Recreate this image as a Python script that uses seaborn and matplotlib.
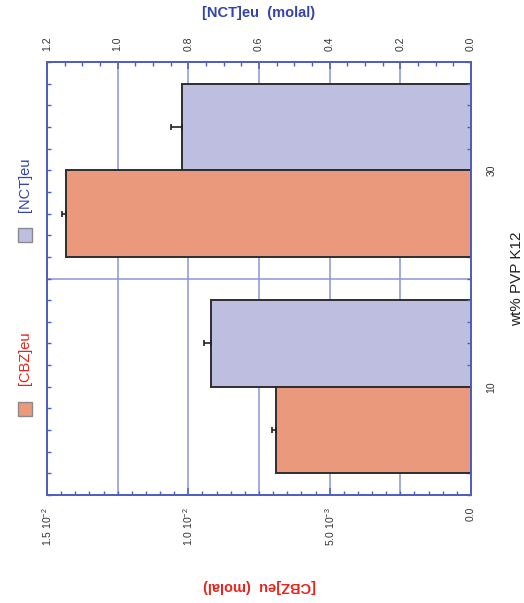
import numpy as np
import pandas as pd
import matplotlib
matplotlib.use("Agg")
import matplotlib.pyplot as plt
from matplotlib.patches import Rectangle
from matplotlib.ticker import MultipleLocator, FixedLocator
import seaborn as sns

# Eutectic concentrations versus polymer loading
wt_pct = ["10", "30"]
cbz_molal = [0.0069, 0.01432]
cbz_err = [0.00014, 0.00014]
nct_molal = [0.737, 0.819]
nct_err = [0.020, 0.031]

cbz_ticks = [0.0, 0.005, 0.010, 0.015]
cbz_ticklabels = ["0.0", "5.0 10$^{-3}$", "1.0 10$^{-2}$", "1.5 10$^{-2}$"]
nct_ticks = [0.0, 0.2, 0.4, 0.6, 0.8, 1.0, 1.2]
nct_ticklabels = ["0.0", "0.2", "0.4", "0.6", "0.8", "1.0", "1.2"]

sns.set_style("white")
plt.rcParams["font.family"] = ["Liberation Sans", "DejaVu Sans"]
plt.rcParams["mathtext.fontset"] = "custom"
plt.rcParams["mathtext.rm"] = "Liberation Sans"

AXIS_BLUE = "#4F5FBF"
GRID_BLUE = "#8C94D8"
TITLE_BLUE = "#3444A8"
TITLE_RED = "#E8231C"
CBZ_COLOR = "#EA997C"
NCT_COLOR = "#BEBFE0"
EDGE = "#2E2E2E"
TXT = "#333333"

fig = plt.figure(figsize=(5.24, 6.03), dpi=100)
ax = fig.add_axes([47 / 524, 1 - 495 / 603, 424 / 524, 433 / 603])
ax2 = ax.twiny()
# the [CBZ] axes carries the category ticks, so keep it drawn last
ax2.set_zorder(0)
ax.set_zorder(1)
ax.patch.set_visible(False)
ax2.patch.set_visible(False)

# group centres along the category axis, bars side by side within a group
centres = np.arange(len(wt_pct)) * 10 + 5
cbz_pos = centres - 2
nct_pos = centres + 2

df_cbz = pd.DataFrame({"pos": cbz_pos, "molal": cbz_molal})
df_nct = pd.DataFrame({"pos": nct_pos, "molal": nct_molal})

# background grid on the lower axes
for v in nct_ticks[1:-1]:
    ax2.axvline(v, color=GRID_BLUE, lw=1.1, zorder=0)
ax2.axhline(10, color=GRID_BLUE, lw=1.1, zorder=0)

sns.barplot(data=df_nct, x="molal", y="pos", orient="h", native_scale=True,
            width=0.4, color=NCT_COLOR, saturation=1, errorbar=None,
            edgecolor=EDGE, linewidth=1.4, ax=ax2, zorder=2)
ax2.errorbar(nct_molal, nct_pos, xerr=[np.zeros(len(nct_err)), nct_err],
             fmt="none", ecolor="#222222", elinewidth=1.2, capsize=2.2,
             capthick=1.2, zorder=3)

sns.barplot(data=df_cbz, x="molal", y="pos", orient="h", native_scale=True,
            width=0.4, color=CBZ_COLOR, saturation=1, errorbar=None,
            edgecolor=EDGE, linewidth=1.4, ax=ax, zorder=2)
ax.errorbar(cbz_molal, cbz_pos, xerr=[np.zeros(len(cbz_err)), cbz_err],
            fmt="none", ecolor="#222222", elinewidth=1.2, capsize=2.2,
            capthick=1.2, zorder=3)

# value axes run from right (zero) to left
ax.set_xlim(0.015, 0.0)
ax2.set_xlim(1.2, 0.0)
ax.set_ylim(0, 20)

for a in (ax, ax2):
    for s in a.spines.values():
        s.set_color(AXIS_BLUE)
        s.set_linewidth(1.3)
        s.set_visible(True)
        s.set_zorder(4)

# bottom axis: [CBZ]
ax.xaxis.set_major_locator(FixedLocator(cbz_ticks))
ax.set_xticklabels(cbz_ticklabels, rotation=90)
ax.xaxis.set_minor_locator(MultipleLocator(0.0005))
ax.tick_params(axis="x", which="both", direction="in", bottom=True, top=False,
               colors=AXIS_BLUE, labelcolor=TXT, labelsize=7.5, pad=8.5)
ax.tick_params(axis="x", which="major", length=5, width=1.1)
ax.tick_params(axis="x", which="minor", length=3, width=1.0)
ax.set_xlabel("[CBZ]eu  (molal)", rotation=180, color=TITLE_RED,
              fontweight="bold", fontsize=10.5, labelpad=24)

# top axis: [NCT]
ax2.xaxis.set_major_locator(FixedLocator(nct_ticks))
ax2.set_xticklabels(nct_ticklabels, rotation=90)
ax2.xaxis.set_minor_locator(MultipleLocator(0.05))
ax2.tick_params(axis="x", which="both", direction="in", top=True, bottom=False,
                colors=AXIS_BLUE, labelcolor=TXT, labelsize=7.5, pad=8)
ax2.tick_params(axis="x", which="major", length=5, width=1.1)
ax2.tick_params(axis="x", which="minor", length=3, width=1.0)
ax2.set_xlabel("[NCT]eu  (molal)", color=TITLE_BLUE, fontweight="bold",
               fontsize=10.5, labelpad=14)
ax2.set_ylabel("")

# category axis
ax.yaxis.set_major_locator(FixedLocator(centres))
ax.set_yticklabels(wt_pct, rotation=90, va="center")
ax.yaxis.set_minor_locator(MultipleLocator(1))
ax.tick_params(axis="y", which="both", direction="in", left=True, right=True,
               labelleft=False, labelright=True, colors=AXIS_BLUE,
               labelcolor=TXT, labelsize=7.5, pad=11)
ax.tick_params(axis="y", which="major", length=3, width=1.0)
ax.tick_params(axis="y", which="minor", length=3, width=1.0)
ax.yaxis.set_label_position("right")
ax.set_ylabel("wt% PVP K12", rotation=90, fontsize=11, color="#222222",
              labelpad=10)

# legend
for y0, colr, label, tcol, ty in [(242, NCT_COLOR, "[NCT]eu", TITLE_BLUE, 185),
                                   (416, CBZ_COLOR, "[CBZ]eu", TITLE_RED, 358)]:
    fig.patches.append(Rectangle((18 / 524, 1 - y0 / 603), 14 / 524, 14 / 603,
                                 transform=fig.transFigure, facecolor=colr,
                                 edgecolor="#8A8A8A", lw=1.0))
    fig.text(25 / 524, 1 - ty / 603, label, rotation=90, ha="center",
             va="center", color=tcol, fontsize=10.5)

fig.savefig("out.png", dpi=100)
